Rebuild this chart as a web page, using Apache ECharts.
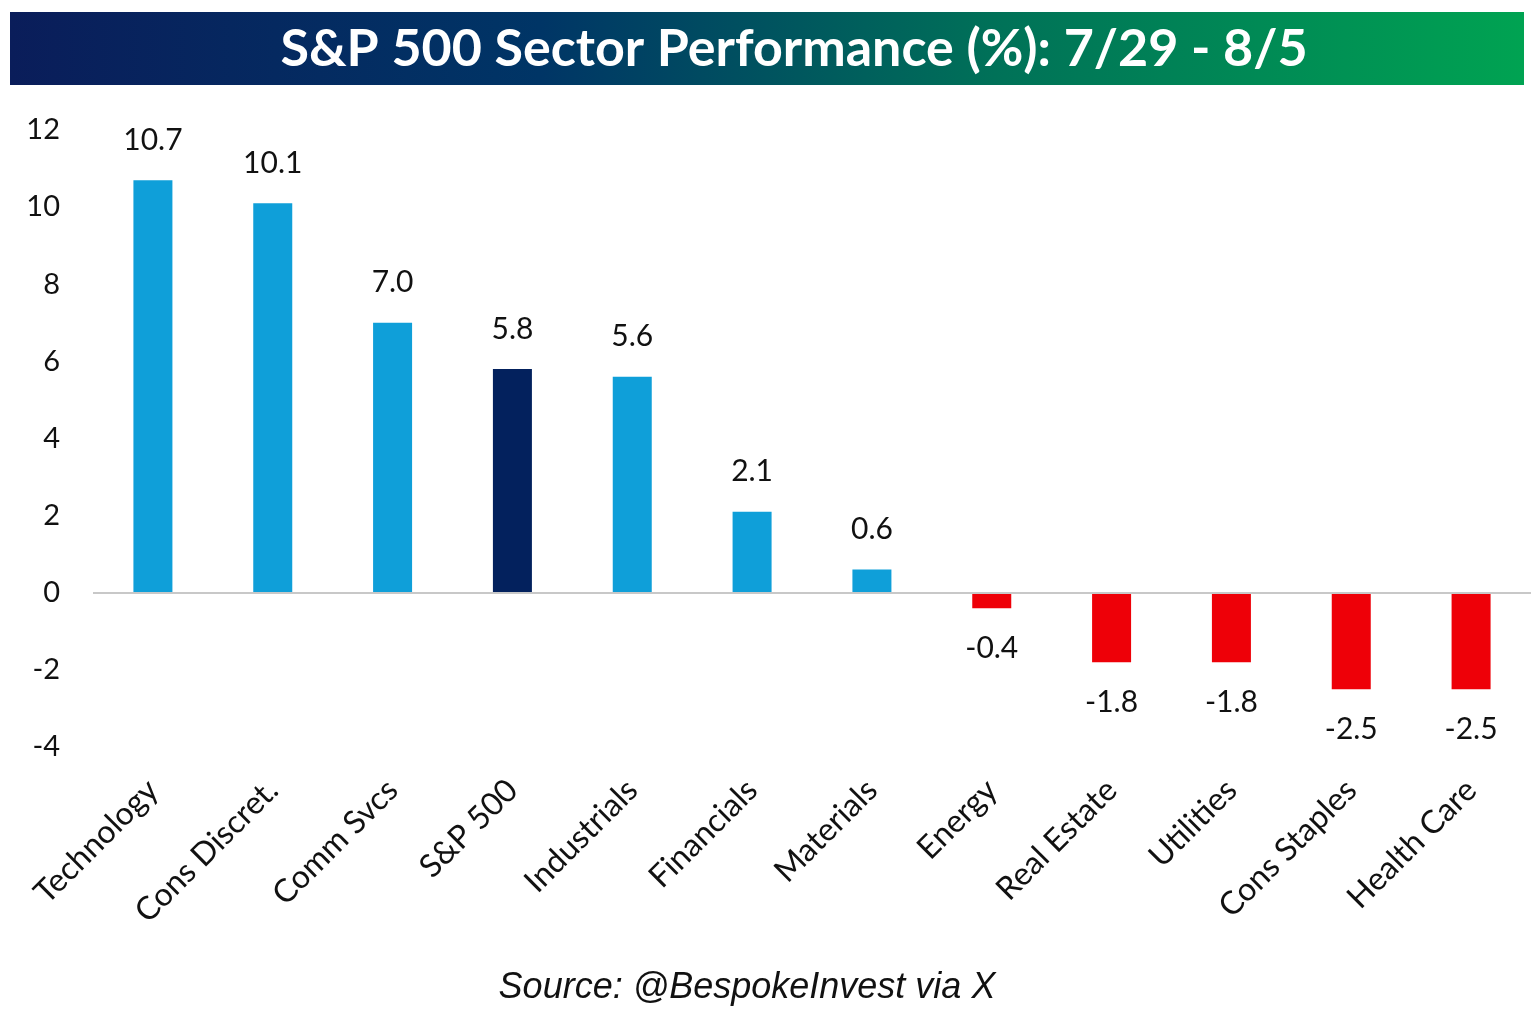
<!DOCTYPE html>
<html lang="en">
<head>
    <meta charset="UTF-8">
    <title>S&amp;P 500 Sector Performance</title>
    <script src="https://cdn.jsdelivr.net/npm/echarts@6/dist/echarts.min.js"></script>
    <style>
        body { margin: 0; padding: 0; background: #ffffff; }
        #chart { width: 1536px; height: 1024px; }
    </style>
</head>
<body>
<div id="chart"></div>
<script>
    // sectors and weekly % change
    const sectors = ["Technology", "Cons Discret.", "Comm Svcs", "S&P 500", "Industrials", "Financials",
        "Materials", "Energy", "Real Estate", "Utilities", "Cons Staples", "Health Care"];
    const changes = [10.7, 10.1, 7.0, 5.8, 5.6, 2.1, 0.6, -0.4, -1.8, -1.8, -2.5, -2.5];
    const benchmark = "S&P 500";

    const BLUE = "#0f9fd9";
    const NAVY = "#03215d";
    const RED = "#ee0008";
    const FONT = "Lato";

    const chart = echarts.init(document.getElementById("chart"));

    const barData = changes.map((v, i) => ({
        value: v,
        itemStyle: { color: sectors[i] === benchmark ? NAVY : (v < 0 ? RED : BLUE) },
        label: { position: v < 0 ? "bottom" : "top" }
    }));

    chart.setOption({
        animation: false,
        backgroundColor: "#ffffff",
        grid: { left: 93, right: 5, top: 130, bottom: 277 },
        graphic: [
            {
                type: "rect",
                left: 10, top: 12,
                shape: { width: 1514, height: 73 },
                style: {
                    fill: new echarts.graphic.LinearGradient(0, 0, 1, 0, [
                        { offset: 0, color: "#0a1d5a" },
                        { offset: 0.35, color: "#003566" },
                        { offset: 0.65, color: "#007158" },
                        { offset: 1, color: "#00a352" }
                    ])
                }
            },
            {
                type: "text",
                x: 794, y: 49,
                style: {
                    text: "S&P 500 Sector Performance (%): 7/29 - 8/5",
                    fill: "#ffffff",
                    font: "bold 52px " + FONT,
                    textAlign: "center",
                    textVerticalAlign: "middle"
                }
            },
            {
                type: "text",
                x: 747, y: 988,
                style: {
                    text: "Source: @BespokeInvest via X",
                    fill: "#111111",
                    font: "italic 36px 'Liberation Sans'",
                    textAlign: "center",
                    textVerticalAlign: "middle"
                }
            }
        ],
        xAxis: {
            type: "category",
            data: sectors,
            axisLine: { show: false, onZero: false },
            axisTick: { show: false },
            axisLabel: {
                rotate: 45,
                margin: 38,
                interval: 0,
                color: "#111111",
                fontSize: 32,
                fontFamily: FONT
            }
        },
        yAxis: {
            type: "value",
            min: -4,
            max: 12,
            interval: 2,
            splitLine: { show: false },
            axisLine: { show: false },
            axisTick: { show: false },
            axisLabel: {
                margin: 33,
                color: "#111111",
                fontSize: 29,
                fontFamily: FONT
            }
        },
        series: [
            {
                type: "bar",
                data: barData,
                barWidth: 39,
                label: {
                    show: true,
                    distance: 25,
                    color: "#111111",
                    fontSize: 30,
                    fontFamily: FONT,
                    formatter: (p) => p.value.toFixed(1)
                },
                markLine: {
                    silent: true,
                    symbol: "none",
                    label: { show: false },
                    lineStyle: { color: "#c8c8c8", width: 2, type: "solid" },
                    data: [{ yAxis: 0 }]
                }
            }
        ]
    });
</script>
</body>
</html>
